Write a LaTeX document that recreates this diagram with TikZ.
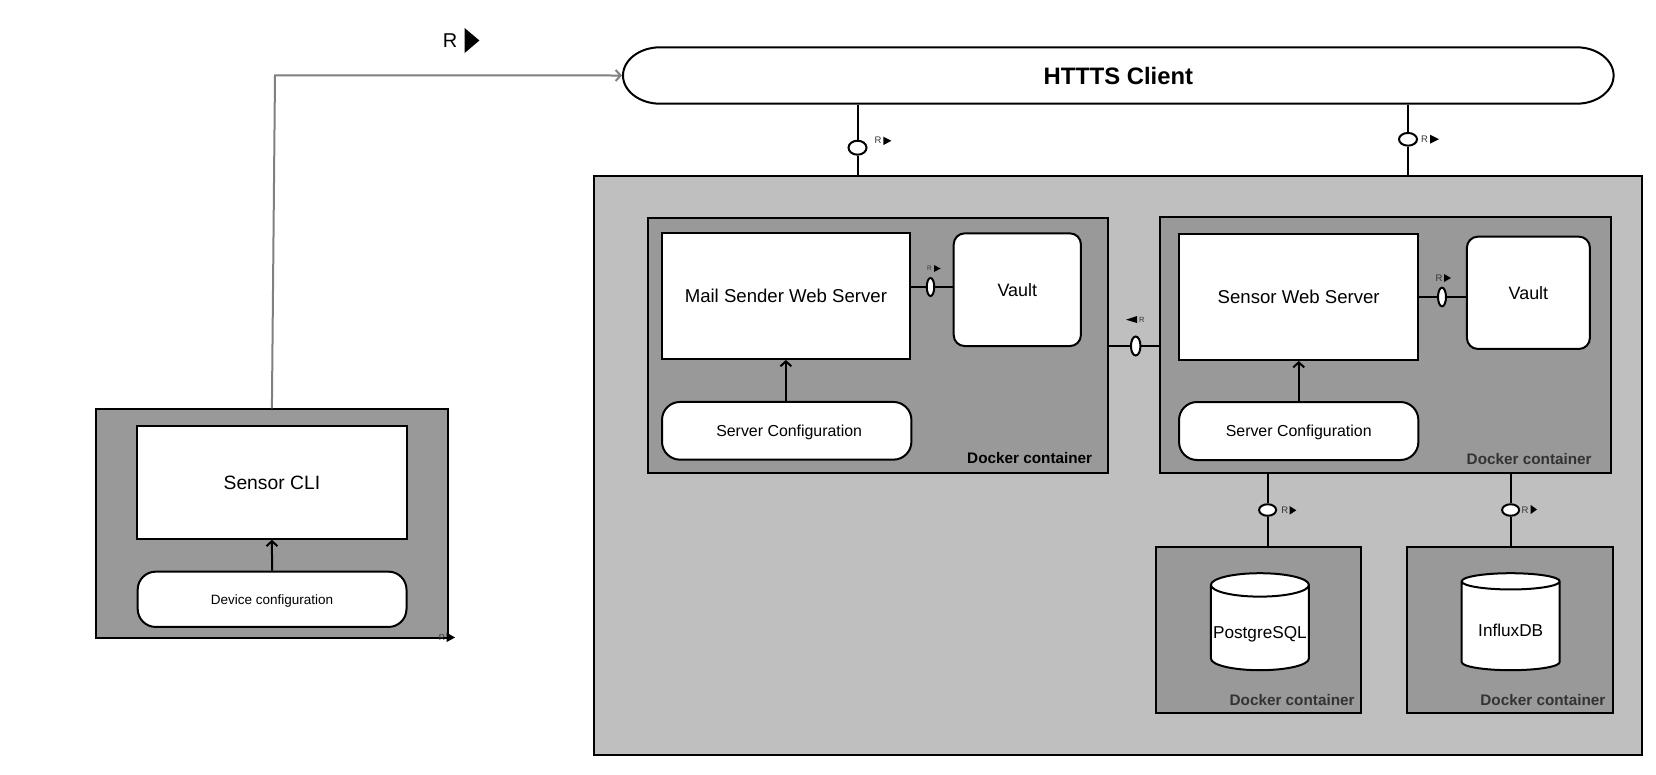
\documentclass[tikz,border=0pt]{standalone}
\usepackage{fontspec}
\setmainfont{Liberation Sans}
\usetikzlibrary{arrows.meta, shapes, positioning}

\begin{document}
\begin{tikzpicture}[>={Straight Barb[length=5pt,width=11pt]}, x=1pt, y=-1pt, inner sep=0pt, line width=2pt,
	area/.style={rectangle, draw=black, fill=black!25},
	container/.style={rectangle, draw=black, fill=black!40},
	server/.style={rectangle, draw=black, fill=white, font=\fontsize{18.6}{20}\selectfont},
	vault/.style={rectangle, rounded corners=11pt, draw=black, fill=white, font=\fontsize{17.9}{20}\selectfont},
	config/.style={rectangle, rounded corners=18pt, draw=black, fill=white, text height=11.5pt, text depth=0.5pt, font=\fontsize{15.9}{18}\selectfont},
	database/.style={cylinder, anchor=shape center, shape border rotate=90, aspect=0.25, draw=black, fill=white, cylinder uses custom fill, cylinder body fill=white, cylinder end fill=white, minimum width=98pt, minimum height=97pt, text height=24.6pt, text depth=3.5pt, font=\fontsize{17.2}{20}\selectfont},
	port/.style={ellipse, draw=black, fill=white},
	docker/.style={anchor=east, font=\bfseries\fontsize{15.3}{18}\selectfont},
	rsmall/.style={font=\fontsize{9.5}{10}\selectfont, text=black!80}]

	\useasboundingbox (0,0) rectangle (1656,774);

	\draw[fill=white] (660,47.3) -- (1576.6,47.3) .. controls (1597,47.3) and (1613.6,60) .. (1613.6,75.5) .. controls (1613.6,91) and (1597,103.7) .. (1576.6,103.7) -- (660,103.7) .. controls (639.6,103.7) and (623,91) .. (623,75.5) .. controls (623,60) and (639.6,47.3) .. (660,47.3) -- cycle;
	\node[rectangle, minimum width=990.6pt, minimum height=56.4pt, font=\bfseries\fontsize{23.8}{26}\selectfont](client) at (1118.3,75.5) {HTTTS Client};

	\node[area, minimum width=1047.6pt, minimum height=579.3pt](outer) at (1117.8,465.6) {};

	\node[container, minimum width=460.6pt, minimum height=255pt](mail_box) at (878.1,345.8) {};
	\node[container, minimum width=451.9pt, minimum height=255.4pt](sensor_box) at (1385.5,345) {};
	\node[container, minimum width=204.9pt, minimum height=166.3pt](pg_box) at (1258.9,630.2) {};
	\node[container, minimum width=205.4pt, minimum height=166.3pt](influx_box) at (1509.9,630.2) {};
	\node[container, minimum width=351.7pt, minimum height=228.4pt](cli_box) at (271.9,523.5) {};

	\node[server, minimum width=247.8pt, minimum height=126.3pt](mail) at (785.9,295.8) {Mail Sender Web Server};
	\node[vault, minimum width=127.2pt, minimum height=112.7pt](vault_a) at (1017.3,289.7) {Vault};
	\node[config, minimum width=249.4pt, minimum height=57.7pt](mail_conf) at (786.7,430.8) {\hspace*{5pt}Server Configuration};

	\node[server, minimum width=239.3pt, minimum height=126pt](sensor) at (1298.7,297) {Sensor Web Server};
	\node[vault, minimum width=123pt, minimum height=112.3pt](vault_b) at (1528.4,292.8) {Vault};
	\node[config, minimum width=239.3pt, minimum height=58pt](sensor_conf) at (1298.7,431) {Server Configuration};

	\node[database](pg) at (1259.9,621.7) {PostgreSQL};
	\node[database](influx) at (1510.7,621.7) {InfluxDB};

	\node[server, minimum width=269.2pt, minimum height=112.7pt, font=\fontsize{19.3}{22}\selectfont](cli) at (271.9,482.4) {Sensor CLI};
	\node[config, minimum width=268.8pt, minimum height=55.3pt, text height=10pt, font=\fontsize{13.5}{16}\selectfont](cli_conf) at (272.1,599.3) {Device configuration};

	\node[docker](mail_label) at (1093.2,458) {Docker container};
	\node[docker, text=black!80](sensor_label) at (1592.7,459) {Docker container};
	\node[docker, text=black!80](pg_label) at (1355.6,699.7) {Docker container};
	\node[docker, text=black!80](influx_label) at (1606.4,699.7) {Docker container};

	\node[port, minimum width=18pt, minimum height=14pt](port_a) at (857.5,147.7) {};
	\node[port, minimum width=18pt, minimum height=12.7pt](port_b) at (1408,139.3) {};
	\node[port, minimum width=7.5pt, minimum height=18pt](port_c) at (930.5,287) {};
	\node[port, minimum width=9.5pt, minimum height=19pt](port_d) at (1135.7,346) {};
	\node[port, minimum width=8pt, minimum height=18.7pt](port_e) at (1442,297) {};
	\node[port, minimum width=17pt, minimum height=11.5pt](port_f) at (1267.6,510) {};
	\node[port, minimum width=17pt, minimum height=11.5pt](port_g) at (1510.6,510) {};

	% connectors
	\draw (client.south -| port_a) -- (port_a);
	\draw (port_a) -- (outer.north -| port_a);
	\draw (client.south -| port_b) -- (port_b);
	\draw (port_b) -- (outer.north -| port_b);
	\draw (mail.east |- port_c) -- (port_c);
	\draw (port_c) -- (vault_a.west |- port_c);
	\draw (mail_box.east |- port_d) -- (port_d);
	\draw (port_d) -- (sensor_box.west |- port_d);
	\draw (sensor.east |- port_e) -- (port_e);
	\draw (port_e) -- (vault_b.west |- port_e);
	\draw (sensor_box.south -| port_f) -- (port_f);
	\draw (port_f) -- (pg_box.north -| port_f);
	\draw (sensor_box.south -| port_g) -- (port_g);
	\draw (port_g) -- (influx_box.north -| port_g);

	\draw[->] (mail_conf.north -| mail) -- (mail.south);
	\draw[->] (sensor_conf.north) -- (sensor.south);
	\draw[->] (cli_conf.north) -- (cli.south);

	\coordinate (bend) at (275,75.4);
	\draw[->, black!50] (cli_box.north) -- (bend) -- (client.west);

	% R marks
	\node[font=\fontsize{20}{22}\selectfont](r_main) at (450,40.5) {R};
	\fill (464.6,28) -- (479.4,40.5) -- (464.6,53) -- cycle;

	\node[rsmall](r_a) at (878,140.7) {R};
	\fill (883.4,136.7) -- (891.4,140.8) -- (883.4,145) -- cycle;

	\node[rsmall](r_b) at (1424.6,139) {R};
	\fill (1430,134.7) -- (1439,139.2) -- (1430,143.7) -- cycle;

	\node[rsmall, font=\fontsize{6.5}{8}\selectfont](r_c) at (929.5,268) {R};
	\fill (934,265) -- (940.5,268.5) -- (934,272) -- cycle;

	\node[rsmall, font=\fontsize{7.5}{8}\selectfont](r_d) at (1141.7,320) {R};
	\fill (1137,316) -- (1126,319.7) -- (1137,323) -- cycle;

	\node[rsmall](r_e) at (1439,278) {R};
	\fill (1444,274) -- (1451,278) -- (1444,282) -- cycle;

	\node[rsmall](r_f) at (1284.7,510.7) {R};
	\fill (1289.5,506) -- (1296.3,510.3) -- (1289.5,514.7) -- cycle;

	\node[rsmall](r_g) at (1525,510) {R};
	\fill (1530.7,505) -- (1537,509.5) -- (1530.7,514) -- cycle;

	\node[rsmall, font=\fontsize{8.5}{9}\selectfont](r_h) at (442,637.7) {R};
	\fill (446.7,632.7) -- (455,637.5) -- (446.7,642) -- cycle;
\end{tikzpicture}
\end{document}
